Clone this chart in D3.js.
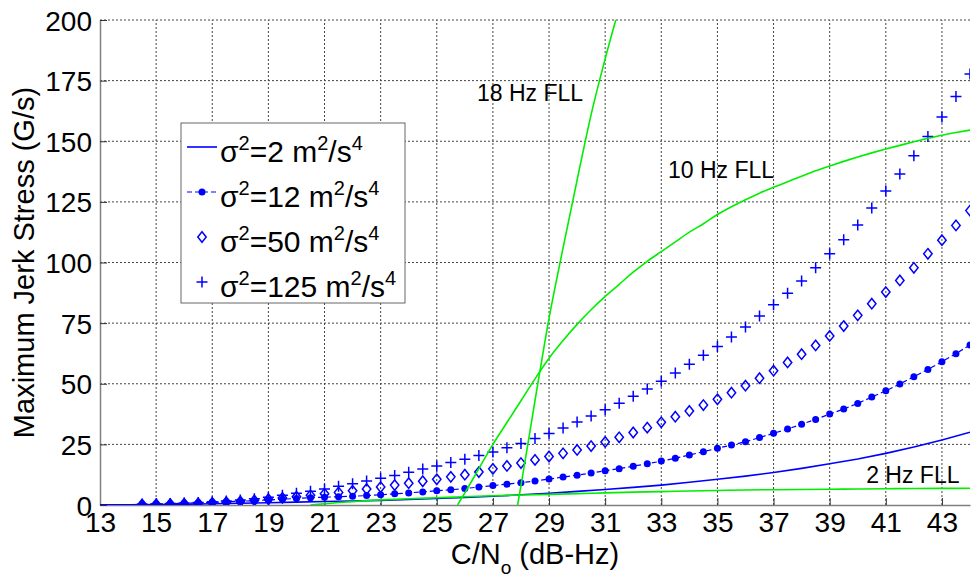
<!DOCTYPE html>
<html>
<head>
<meta charset="utf-8">
<script src="https://cdn.jsdelivr.net/npm/d3@7"></script>
<style>
body { margin: 0; background: #fff; }
text { font-family: "Liberation Sans", Arial, sans-serif; }
</style>
</head>
<body>
<svg width="977" height="581"></svg>
<script>
// C/No values where markers sit
var cn0 = [14.5,15,15.5,16,16.5,17,17.5,18,18.5,19,
           19.5,20,20.5,21,21.5,22,22.5,23,23.5,24,
           24.5,25,25.5,26,26.5,27,27.5,28,28.5,29,
           29.5,30,30.5,31,31.5,32,32.5,33,33.5,34,
           34.5,35,35.5,36,36.5,37,37.5,38,38.5,39,
           39.5,40,40.5,41,41.5,42,42.5,43,43.5,44];

var s12 = [0.3,0.4,0.55,0.7,0.9,1.1,1.3,1.55,1.8,2.1,
           2.4,2.7,3.0,3.2,3.4,3.6,3.9,4.2,4.6,5.0,
           5.4,5.9,6.3,6.8,7.4,8.0,8.6,9.2,9.9,10.7,
           11.5,12.3,13.2,14.1,15.0,16.0,17.0,18.1,19.3,20.6,
           22.0,23.4,24.7,26.1,27.8,29.6,31.3,33.3,35.3,37.5,
           39.6,41.9,44.5,47.1,49.9,52.9,55.9,59.1,62.4,66.0];

var s50 = [0.2,0.3,0.4,0.55,0.7,0.9,1.15,1.45,1.9,2.4,
           2.9,3.4,4.0,4.6,5.2,5.9,6.6,7.4,8.2,9.0,
           9.8,10.6,11.6,12.5,13.6,14.9,16.1,17.3,18.6,20.0,
           21.3,22.7,24.3,26.0,27.9,29.9,31.9,34.1,36.4,38.8,
           41.2,43.6,46.3,49.2,52.3,55.4,58.8,62.2,65.8,69.7,
           73.8,78.2,83.0,87.8,92.6,97.8,103.6,109.2,115.3,121.4];

var s125 = [0.3,0.45,0.6,0.8,1.0,1.3,1.7,2.1,2.6,3.2,
            4.0,4.8,5.7,6.6,7.7,8.8,9.9,11.0,12.2,13.5,
            14.8,16.1,17.5,18.9,20.4,21.9,23.6,25.4,27.4,29.5,
            31.8,34.2,36.7,39.3,42.0,44.8,47.8,51.0,54.4,58.0,
            61.8,65.4,69.3,73.4,77.9,82.6,87.3,92.4,97.8,103.6,
            109.4,115.5,122.5,129.5,136.5,144.0,152.0,160.0,168.5,177.7];

// sigma^2 = 2 solid line
var s2X = [13,14,15,16,17,18,19,20,21,22,23,24,25,26,27,28,
           29,30,31,32,33,34,35,36,37,38,39,40,41,42,43,44];
var s2Y = [0.05,0.1,0.18,0.3,0.5,0.7,0.95,1.2,1.45,1.65,1.9,2.25,2.65,3.1,3.6,4.2,
           4.85,5.6,6.4,7.25,8.2,9.35,10.6,11.9,13.4,15.1,17.0,19.0,21.3,23.9,26.8,30.0];

// FLL threshold curves
var fll2X = [20.5,21,21.5,22,22.5,23,24,25,26,27,28,29,30,31,32,33,34,35,36,37,38,39,40,41,42,43,44];
var fll2Y = [0,0.5,1.0,1.4,1.8,2.1,2.6,3.0,3.4,3.8,4.1,4.4,4.7,5.0,5.3,5.5,5.8,6.0,6.2,6.3,6.4,6.5,6.6,6.7,6.8,6.85,6.9];

var fll10X = [25.74,26,26.5,27,27.5,28,28.5,29,29.5,30,30.5,31,31.5,32,32.5,33,33.5,34,34.5,
              35,35.5,36,36.5,37,37.5,38,38.5,39,39.5,40,40.5,41,41.5,42,42.5,43,43.5,44];
var fll10Y = [0,5,15,25,34,43,52,60.5,67.8,74.5,80.5,86,91,96,100.5,104.5,108.5,112.5,116,
              119.8,123,125.9,128.6,131,133.3,135.6,137.8,139.8,141.7,143.5,145.2,146.8,148.3,149.8,151.2,152.5,153.6,154.6];

var fll18X = [27.88,28,28.5,29,29.5,30,30.5,31,31.5];
var fll18Y = [0,8,43,77,106,134,161,184,205];

var xTicks = [13,15,17,19,21,23,25,27,29,31,33,35,37,39,41,43];
var yTicks = [0,25,50,75,100,125,150,175,200];

var fllLabels = [{t:"18 Hz FLL", x:26.43, y:166.5}, {t:"10 Hz FLL", x:33.24, y:134.8}, {t:"2 Hz FLL", x:40.3, y:9.1}];
var legendNames = ["=2 m", "=12 m", "=50 m", "=125 m"];

var blue = "#0000ff", green = "#00ee00";
var margins = {top:20, left:100, right:7, bottom:76};
var W = 977, H = 581;

var svg = d3.select("svg");

var xScale = d3.scaleLinear().domain([13,44]).range([margins.left, W - margins.right]);
var yScale = d3.scaleLinear().domain([0,200]).range([H - margins.bottom, margins.top]);

svg.append("defs").append("clipPath").attr("id","plotclip")
    .append("rect")
    .attr("x", margins.left).attr("y", margins.top)
    .attr("width", W - margins.right - margins.left)
    .attr("height", H - margins.bottom - margins.top);

// grid lines
var grid = svg.append("g").attr("class","grid");
grid.selectAll(".gx").data(xTicks.slice(1)).enter().append("line")
    .attr("x1", function(d){return xScale(d);}).attr("x2", function(d){return xScale(d);})
    .attr("y1", yScale(0)).attr("y2", yScale(200));
grid.selectAll(".gy").data(yTicks.slice(1)).enter().append("line")
    .attr("y1", function(d){return yScale(d);}).attr("y2", function(d){return yScale(d);})
    .attr("x1", xScale(13)).attr("x2", xScale(44));
grid.selectAll("line")
    .attr("stroke","#444").attr("stroke-width",1).attr("stroke-dasharray","2,2");

// axes
var xAxis = d3.axisBottom(xScale).tickValues(xTicks).tickSizeInner(-7).tickSizeOuter(0).tickPadding(7);
var yAxis = d3.axisLeft(yScale).tickValues(yTicks).tickSizeInner(-7).tickSizeOuter(0).tickPadding(8);

var gx = svg.append("g").attr("transform","translate(0," + yScale(0) + ")").call(xAxis);
var gy = svg.append("g").attr("transform","translate(" + xScale(13) + ",0)").call(yAxis);
[gx, gy].forEach(function(g){
    g.select(".domain").attr("stroke","#808080").attr("stroke-width",1.5);
    g.selectAll(".tick line").attr("stroke","#333");
    g.selectAll(".tick text").attr("font-size","28px").attr("fill","#000")
        .style("font-family","'Liberation Sans', Arial, sans-serif");
});
gy.selectAll(".tick text").attr("dy","0.36em");

// axis titles
svg.append("text")
    .attr("x", xScale(28.5)).attr("y", 564)
    .attr("text-anchor","middle").attr("font-size","29px")
    .html('C/N<tspan dy="10" font-size="19px">o</tspan><tspan dy="-10"> (dB-Hz)</tspan>');
svg.append("text")
    .attr("transform","translate(34," + yScale(100) + ") rotate(-90)")
    .attr("text-anchor","middle").attr("font-size","29px")
    .text("Maximum Jerk Stress (G/s)");

var plot = svg.append("g").attr("clip-path","url(#plotclip)");

var line = d3.line()
    .x(function(d){return xScale(d[0]);})
    .y(function(d){return yScale(d[1]);});
var smooth = d3.line()
    .curve(d3.curveMonotoneX)
    .x(function(d){return xScale(d[0]);})
    .y(function(d){return yScale(d[1]);});

function pairs(xs, ys){ return xs.map(function(x,i){ return [x, ys[i]]; }); }

// sigma^2 = 2
plot.append("path").datum(pairs(s2X, s2Y))
    .attr("d", line).attr("fill","none").attr("stroke", blue).attr("stroke-width",1.6);

// sigma^2 = 12 dashed with dots
plot.append("path").datum(pairs(cn0, s12))
    .attr("d", line).attr("fill","none").attr("stroke", blue)
    .attr("stroke-width",1.2).attr("stroke-dasharray","5,3");
plot.selectAll(".dot").data(pairs(cn0, s12)).enter().append("circle")
    .attr("cx", function(d){return xScale(d[0]);})
    .attr("cy", function(d){return yScale(d[1]);})
    .attr("r", 3.5).attr("fill", blue);

// sigma^2 = 50 diamonds
var diamond = "M0,-5.2L4.2,0L0,5.2L-4.2,0Z";
plot.selectAll(".dia").data(pairs(cn0, s50)).enter().append("path")
    .attr("transform", function(d){return "translate(" + xScale(d[0]) + "," + yScale(d[1]) + ")";})
    .attr("d", diamond).attr("fill","none").attr("stroke", blue).attr("stroke-width",1.5);

// sigma^2 = 125 pluses
var plus = "M-5.5,0H5.5M0,-5.5V5.5";
plot.selectAll(".plus").data(pairs(cn0, s125)).enter().append("path")
    .attr("transform", function(d){return "translate(" + xScale(d[0]) + "," + yScale(d[1]) + ")";})
    .attr("d", plus).attr("fill","none").attr("stroke", blue).attr("stroke-width",1.5);

// FLL curves
[[fll2X, fll2Y], [fll10X, fll10Y], [fll18X, fll18Y]].forEach(function(c){
    plot.append("path").datum(pairs(c[0], c[1]))
        .attr("d", smooth).attr("fill","none").attr("stroke", green).attr("stroke-width",1.6);
});

svg.selectAll(".fll").data(fllLabels).enter().append("text")
    .attr("x", function(d){return xScale(d.x);})
    .attr("y", function(d){return yScale(d.y);})
    .attr("font-size","23px").attr("fill","#000")
    .text(function(d){return d.t;});

// legend
var leg = svg.append("g").attr("transform","translate(181,123)");
leg.append("rect").attr("width",224).attr("height",180)
    .attr("fill","#fff").attr("stroke","#666").attr("stroke-width",1);
var rows = [24, 69, 114, 159];
leg.append("line").attr("x1",6).attr("x2",36).attr("y1",rows[0]).attr("y2",rows[0])
    .attr("stroke",blue).attr("stroke-width",1.6);
leg.append("line").attr("x1",6).attr("x2",36).attr("y1",rows[1]).attr("y2",rows[1])
    .attr("stroke",blue).attr("stroke-width",1.2).attr("stroke-dasharray","5,3");
leg.append("circle").attr("cx",21).attr("cy",rows[1]).attr("r",3.5).attr("fill",blue);
leg.append("path").attr("transform","translate(21," + rows[2] + ")")
    .attr("d", diamond).attr("fill","none").attr("stroke",blue).attr("stroke-width",1.5);
leg.append("path").attr("transform","translate(21," + rows[3] + ")")
    .attr("d", plus).attr("fill","none").attr("stroke",blue).attr("stroke-width",1.5);

leg.selectAll(".lt").data(legendNames).enter().append("text")
    .attr("x", 39).attr("y", function(d,i){return rows[i] + 15;})
    .attr("font-size","30px").attr("fill","#000")
    .html(function(d){
        return 'σ<tspan dy="-12" font-size="20px">2</tspan><tspan dy="12">' + d +
               '</tspan><tspan dy="-12" font-size="20px">2</tspan><tspan dy="12">/s</tspan>' +
               '<tspan dy="-12" font-size="20px">4</tspan>';
    });
</script>
</body>
</html>
